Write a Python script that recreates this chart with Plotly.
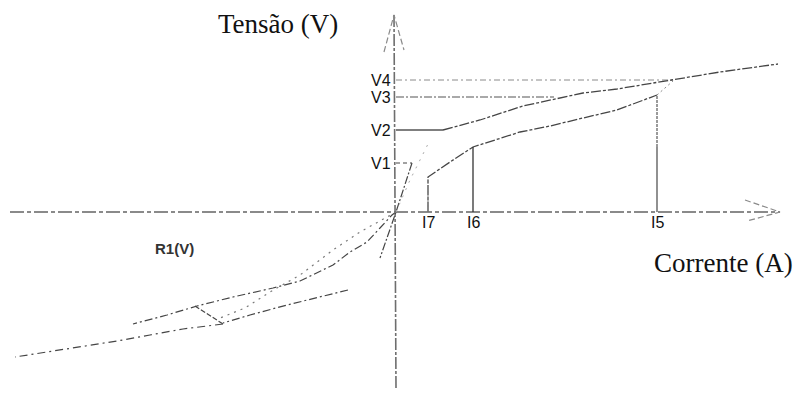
import plotly.graph_objects as go

# Characteristic values marked on the axes (current in A, voltage in V, schematic units)
current_labels = ["I7", "I6", "I5"]
current_values = [3.2, 7.7, 26.1]
voltage_labels = ["V1", "V2", "V3", "V4"]
voltage_values = [4.9, 8.2, 11.5, 13.2]

# Upper branch: starts at V2 and rises slowly with current
upper_i = [4.7, 8.4, 12.7, 15.4, 18.7, 22.1, 27.7, 32.4, 38.2]
upper_v = [8.2, 9.2, 10.6, 11.2, 11.9, 12.3, 13.2, 14.0, 14.8]

# Lower branch: starts at I7 and joins the upper branch near V4
lower_i = [3.2, 3.2, 5.4, 7.7, 12.4, 15.4, 18.7, 22.1, 26.1]
lower_v = [0.0, 3.5, 5.0, 6.5, 8.0, 8.6, 9.4, 10.2, 11.7]
lower_join_i = [26.1, 27.7]
lower_join_v = [11.7, 13.1]

# Steep linear region through the origin (up to V1)
steep_i = [1.6, 0.0, -1.6]
steep_v = [4.9, 0.0, -4.6]
initial_i = [0.0, 1.4, 3.4]
initial_v = [0.0, 3.2, 7.2]

# Negative quadrant, R1(V)
neg_upper_i = [0.0, -0.4, -1.6, -2.9, -4.6, -6.3, -9.6, -12.3, -16.3, -19.9, -22.9, -26.3]
neg_upper_v = [0.0, -0.3, -1.6, -3.0, -4.0, -5.3, -6.9, -7.6, -8.5, -9.4, -10.3, -11.2]
neg_dotted_i = [0.0, -3.6, -6.3, -9.6, -12.6, -15.1, -17.6]
neg_dotted_v = [0.0, -2.0, -3.8, -6.3, -8.0, -9.6, -10.6]
neg_mid_i = [-4.8, -10.9, -14.6, -17.3]
neg_mid_v = [-7.8, -9.3, -10.3, -11.1]
neg_link_i = [-20.1, -17.3]
neg_link_v = [-9.4, -11.2]
neg_lower_i = [-17.3, -21.3, -24.6, -27.9, -38.1]
neg_lower_v = [-11.2, -11.7, -12.3, -12.9, -14.5]

# Axes extents and arrow heads
h_axis_i = [-38.6, 38.4]
h_axis_v = [0.0, 0.0]
h_head_i = [34.9, 38.4, 35.1]
h_head_v = [1.2, 0.0, -0.9]
v_axis_i = [0.0, -0.2]
v_axis_v = [-17.6, 19.7]
v_head_i = [-1.2, -0.2, 0.8]
v_head_v = [16.0, 19.7, 16.2]

INK = "#454545"
GREY = "#8a8a8a"

fig = go.Figure()


def line(xs, ys, color=INK, width=1.3, dash="solid"):
    fig.add_trace(go.Scatter(x=xs, y=ys, mode="lines", hoverinfo="skip",
                             line=dict(color=color, width=width, dash=dash)))


# axes
line(h_axis_i, h_axis_v, GREY, 2.0, "14px,3px,4px,3px")
line(h_head_i, h_head_v, GREY, 1.2, "6px,3px")
line(v_axis_i, v_axis_v, "#6e6e6e", 1.6, "12px,2px,3px,2px")
line(v_head_i, v_head_v, GREY, 1.2, "6px,3px")

# voltage reference lines
line([0, upper_i[-3]], [voltage_values[3]] * 2, GREY, 1.0, "6px,3px,2px,3px")
line([0, 15.8], [voltage_values[2]] * 2, "#555", 1.2, "8px,2px,2px,2px")
line([0, upper_i[0]], [voltage_values[1]] * 2, "#555", 1.3)
line([0, 1.6], [voltage_values[0]] * 2, INK, 1.0, "4px,3px")

# characteristic curves
line(upper_i, upper_v, INK, 1.3, "10px,2px,3px,2px")
line(lower_i, lower_v, INK, 1.3, "10px,2px,3px,2px")
line(lower_join_i, lower_join_v, GREY, 1.0, "2px,3px")
line(steep_i, steep_v, INK, 1.2, "8px,2px,2px,2px")
line(initial_i, initial_v, "#aaaaaa", 1.0, "2px,6px")

# current reference lines
line([current_values[0]] * 2, [0, lower_v[1]], GREY, 1.2, "5px,2px")
line([current_values[1]] * 2, [0, lower_v[3]], "#333", 1.3)
line([current_values[2]] * 2, [0, 6.5], "#555", 1.3)
line([current_values[2]] * 2, [6.5, lower_v[-1]], "#9a9a9a", 2.0, "3px,1px")

# negative quadrant
line(neg_upper_i, neg_upper_v, INK, 1.2, "8px,3px,2px,3px")
line(neg_dotted_i, neg_dotted_v, "#7a7a7a", 1.2, "2px,5px")
line(neg_mid_i, neg_mid_v, INK, 1.2, "8px,3px,2px,3px")
line(neg_link_i, neg_link_v, INK, 1.2, "5px,2px")
line(neg_lower_i, neg_lower_v, INK, 1.2, "8px,4px,2px,4px")

annotations = []
sans = dict(family="Liberation Sans, Arial, sans-serif", size=16, color="#111")
serif = dict(family="Liberation Serif, Times New Roman, serif", size=27, color="#111")

for name, val in zip(voltage_labels, voltage_values):
    annotations.append(dict(x=-0.3, y=val, text=name, showarrow=False,
                            xanchor="right", yanchor="middle", font=sans))
for name, val in zip(current_labels, current_values):
    annotations.append(dict(x=val, y=-1.0, text=name, showarrow=False,
                            xanchor="center", yanchor="middle", font=sans))

annotations.append(dict(x=-11.8, y=18.8, text="Tensão (V)", showarrow=False,
                        xanchor="center", yanchor="middle", font=serif))
annotations.append(dict(x=32.7, y=-5.1, text="Corrente (A)", showarrow=False,
                        xanchor="center", yanchor="middle", font=serif))
annotations.append(dict(x=-22.2, y=-3.6, text="<b>R1(V)</b>", showarrow=False,
                        xanchor="center", yanchor="middle",
                        font=dict(family="Liberation Sans, Arial, sans-serif", size=15, color="#333")))

fig.update_layout(
    width=802, height=399,
    margin=dict(l=0, r=0, t=0, b=0),
    paper_bgcolor="white", plot_bgcolor="white",
    showlegend=False,
    xaxis=dict(range=[-39.6, 40.6], visible=False, fixedrange=True),
    yaxis=dict(range=[-18.7, 21.2], visible=False, fixedrange=True),
    annotations=annotations,
)

fig.write_html("out.html")
